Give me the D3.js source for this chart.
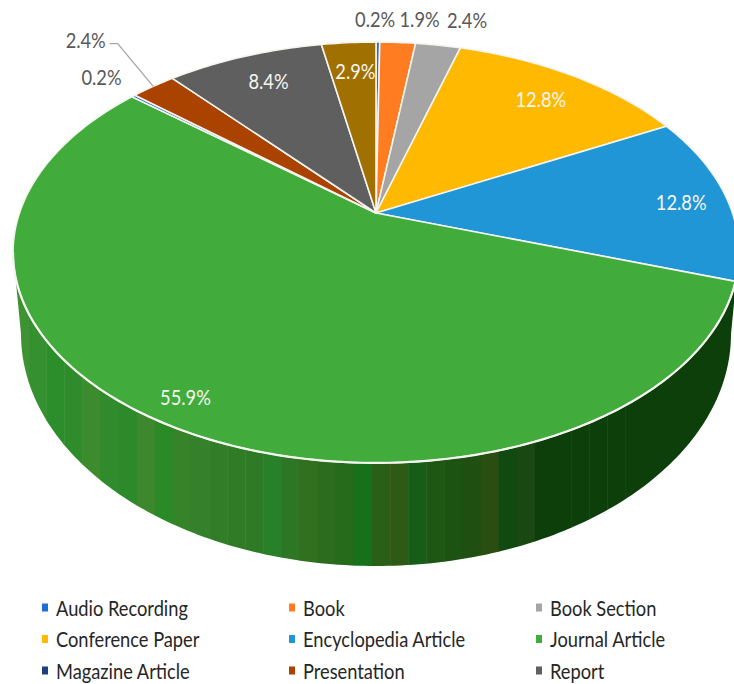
<!DOCTYPE html>
<html>
<head>
<meta charset="utf-8">
<script src="https://cdn.jsdelivr.net/npm/d3@7/dist/d3.min.js"></script>
<style>
html,body{margin:0;padding:0;background:#fff}
svg{display:block}
text{font-family:Lato,"Liberation Sans",sans-serif}
</style>
</head>
<body>
<svg id="chart" width="734" height="684"></svg>
<script>
// Publication types as shares of the collection
const categories = ["Audio Recording","Book","Book Section","Conference Paper","Encyclopedia Article","Journal Article","Magazine Article","Presentation","Report","Other"];
const shares = [0.2,1.9,2.4,12.8,12.8,55.9,0.2,2.4,8.4,2.9];
const colors = ["#1f6fd0","#ff7c20","#a5a5a5","#ffb900","#2196d6","#41ab3b","#1f5fb8","#aa4200","#5f5f5f","#a07000"];
const legendColors = ["#1f6fd0","#ff7c20","#a5a5a5","#ffb900","#2196d6","#41ab3b","#1c3f80","#aa4200","#5f5f5f"];
const legendCount = 9;

// Label placement: disc radius along each wedge's middle, then a small pixel shift
const labelRadius = [1.157,1.16,1.175,0.8,0.87,0.9,1.15,1.38,0.8,0.8];
const labelShift = [[-3,-1],[19,-1],[20,-1],[3,-1],[0,3],[-7,-3],[0,-4],[4,-6],[1,-3],[2,-1]];
const labelInside = [false,false,false,true,true,true,false,false,true,true];

// Shades of the visible side wall, left to right
const wallShades = ["#3f9232","#359030","#2b8e2a","#2f8c2b","#3c8b2d","#2f8b2b","#2d8a2b","#3d882c","#2a8a26","#37832a","#35802a","#317d28","#2f7b26","#2f7a26","#27802a","#2d7623","#31701f","#2b6c1e","#266a1c","#17701a","#2a5f18","#2f5a16","#165e18","#1e5714","#1c5312","#205011","#2a4d11","#104a10","#1b4712","#0d3f0b","#0d3f0b","#0d3f0b","#0d3f0b","#0d3f0b","#0d3f0b","#0d3f0b","#0d3f0b","#0d3f0b","#0d3f0b","#0d3f0b"];

// Tilted disc: perspective constants for the top rim and the lower rim
const cx = 376, apexY = 213, tilt = 0.1876, halfW = 356.5, halfH = 203;
const lowerCy = 334, lowerRx = 355, lowerRy = 232;
const textSqueeze = 0.87, fontSize = 21;
const project = (theta, r) => {
  const u = r * Math.sin(theta), v = -r * Math.cos(theta), w = 1 - tilt * v;
  return [cx + halfW * u / w, apexY + halfH * v / w];
};

const svg = d3.select("#chart");
const pie = d3.pie().sort(null).startAngle(0).endAngle(2 * Math.PI);
const arcs = pie(shares);
const line = d3.line();

// Angles run clockwise from the top of the disc; the wall spans the rim's widest points
const silhouette = Math.asin(tilt);
const wallTop = d3.range(0, 181).map(i => {
  const a = Math.PI * 0.5 + silhouette + (Math.PI - 2 * silhouette) * i / 180;
  return project(a, 1);
});
const wallBottom = d3.range(0, 181).map(i => {
  const a = Math.PI * 1.5 - Math.PI * i / 180;
  return [cx + lowerRx * Math.sin(a), lowerCy - lowerRy * Math.cos(a)];
});

const defs = svg.append("defs");
defs.append("clipPath").attr("id", "wall-clip").append("path")
  .attr("d", line(wallTop.concat(wallBottom)) + "Z");

const xBand = d3.scaleBand().domain(d3.range(wallShades.length)).range([10, 734]);
svg.append("g").attr("clip-path", "url(#wall-clip)")
  .selectAll("rect").data(wallShades).join("rect")
  .attr("x", (d, i) => xBand(i)).attr("y", 240)
  .attr("width", xBand.bandwidth() + 0.5).attr("height", 340)
  .attr("fill", d => d);

// Wedges of the top face
svg.append("g").selectAll("path").data(arcs).join("path")
  .attr("d", d => {
    const n = Math.max(2, Math.ceil((d.endAngle - d.startAngle) * 60));
    const rim = d3.range(n + 1).map(i => project(d.startAngle + (d.endAngle - d.startAngle) * i / n, 1));
    return line([[cx, apexY], ...rim]) + "Z";
  })
  .attr("fill", (d, i) => colors[i])
  .attr("stroke", "#f4f4f0").attr("stroke-width", 1.6).attr("stroke-linejoin", "round");

// Heavier light edge where the top face meets the wall
svg.append("path").attr("d", line(wallTop))
  .attr("fill", "none").attr("stroke", "#f4f4f0").attr("stroke-width", 2.2);

// Data labels
const midAngle = d => (d.startAngle + d.endAngle) / 2;
const labelPos = arcs.map((d, i) => {
  const p = project(midAngle(d), labelRadius[i]);
  return [p[0] + labelShift[i][0], p[1] + labelShift[i][1]];
});
const leaderRim = project(midAngle(arcs[7]), 1);
svg.append("path")
  .attr("d", line([leaderRim, [labelPos[7][0] + 32, labelPos[7][1] + 4], [labelPos[7][0] + 24, labelPos[7][1] + 4]]))
  .attr("fill", "none").attr("stroke", "#a6a6a6").attr("stroke-width", 1.3);
svg.append("g").selectAll("text").data(arcs).join("text")
  .attr("transform", (d, i) => `translate(${labelPos[i][0]},${labelPos[i][1]}) scale(${textSqueeze},1)`)
  .attr("text-anchor", "middle").attr("dominant-baseline", "central")
  .attr("font-size", fontSize)
  .attr("fill", (d, i) => labelInside[i] ? "#f5f5f0" : "#595959")
  .text((d, i) => shares[i].toFixed(1) + "%");

// Legend: three columns, three rows
const legendData = categories.slice(0, legendCount);
const colX = d3.scalePoint().domain([0, 1, 2]).range([42, 536]);
const rowY = d3.scalePoint().domain([0, 1, 2]).range([607.5, 670.5]);
const legend = svg.append("g").selectAll("g").data(legendData).join("g")
  .attr("transform", (d, i) => `translate(${colX(i % 3)},${rowY(Math.floor(i / 3))})`);
legend.append("rect").attr("y", -4).attr("width", 6).attr("height", 8)
  .attr("fill", (d, i) => legendColors[i]);
legend.append("text").attr("transform", `translate(14,0) scale(${textSqueeze},1)`)
  .attr("dominant-baseline", "central")
  .attr("font-size", fontSize).attr("fill", "#262626").text(d => d);
</script>
</body>
</html>
